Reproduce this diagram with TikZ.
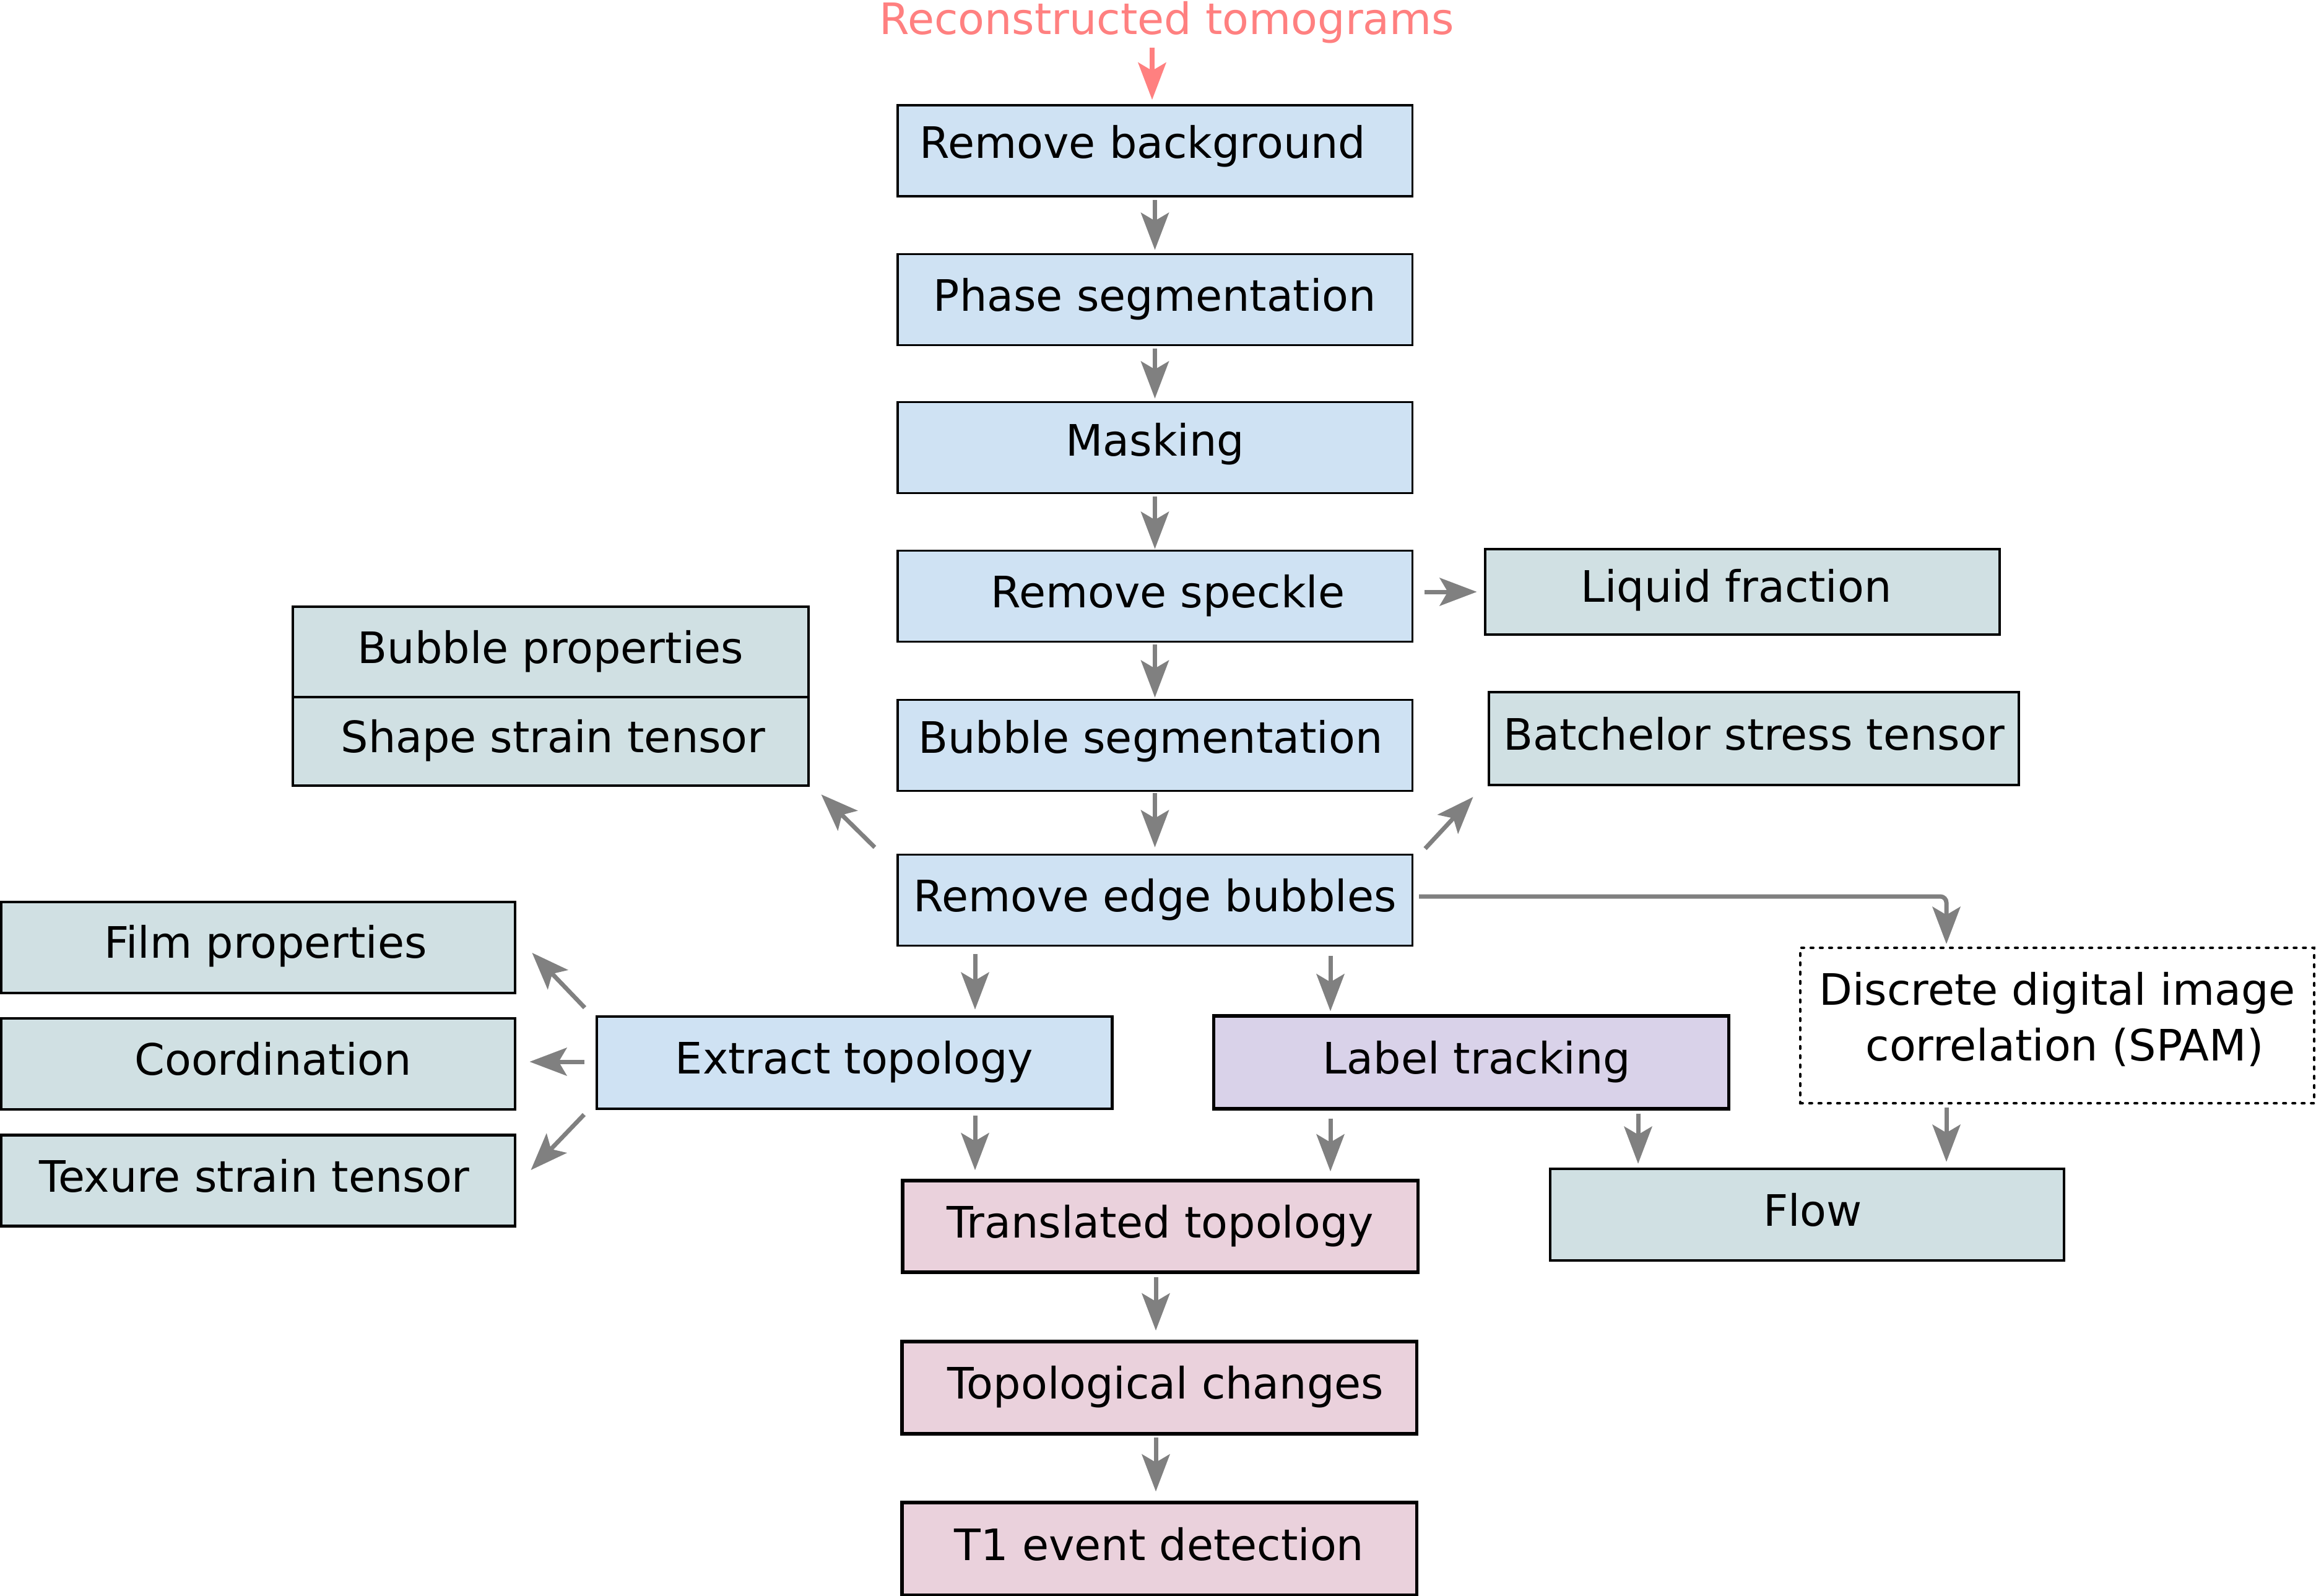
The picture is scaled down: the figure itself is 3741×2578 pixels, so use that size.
\documentclass[tikz,border=0pt]{standalone}
\usepackage{fontspec}
\setmainfont{DejaVu Sans}
\usetikzlibrary{arrows.meta,calc}
\definecolor{cblue}{RGB}{207,226,243}
\definecolor{cgreen}{RGB}{208,224,227}
\definecolor{cpurple}{RGB}{217,210,233}
\definecolor{cpink}{RGB}{234,209,220}
\definecolor{ctitle}{RGB}{255,128,128}
\definecolor{cgray}{RGB}{128,128,128}
\newcommand\mainfs{\fontsize{19.9pt}{25.6pt}\selectfont}
\tikzset{
  boxbase/.style={draw=black, rectangle, inner sep=0pt, minimum width=8.31cm, minimum height=1.47cm, font=\mainfs},
  box/.style={boxbase, text height=0.53cm, text depth=0.165cm},
  bluebox/.style={box, fill=cblue, line width=0.035cm},
  greenbox/.style={box, fill=cgreen, line width=0.044cm},
  purplebox/.style={box, fill=cpurple, line width=0.052cm},
  pinkbox/.style={box, fill=cpink, line width=0.055cm},
  dotbox/.style={boxbase, fill=white, line width=0.042cm, line cap=round, dash pattern=on 0.04cm off 0.11cm, align=center, minimum width=8.30cm, minimum height=2.51cm},
  arr/.style={draw=cgray, line width=0.07cm, -{Stealth[length=0.6cm,width=0.45cm,inset=0.13cm]}},
  pinkarr/.style={draw=ctitle, line width=0.075cm, -{Stealth[length=0.6cm,width=0.45cm,inset=0.13cm]}}
}
\begin{document}
\begin{tikzpicture}[x=0.01cm,y=-0.01cm]
\useasboundingbox (0,0) rectangle (3741,2578);
% title
\node[text=ctitle, font=\mainfs, inner sep=0pt, text height=0.53cm, text depth=0.165cm] (title) at (1885,36.75) {Reconstructed tomograms};
% main column
\node[bluebox, text depth=0.3cm] (rb) at (1865.5,243.5) {Remove background\kern0.39cm};
\node[bluebox] (ps) at (1865.5,484) {Phase segmentation};
\node[bluebox, text depth=0.265cm] (mk) at (1865.5,723) {Masking};
\node[bluebox] (rs) at (1865.5,963) {\kern0.42cm Remove speckle};
\node[bluebox, text depth=0.285cm] (bs) at (1865.5,1204) {Bubble segmentation\kern0.14cm};
\node[bluebox] (re) at (1865.5,1454) {Remove edge bubbles};
% right side
\node[greenbox, minimum height=1.38cm, text depth=0.2cm] (lf) at (2814.5,956) {Liquid fraction\kern0.2cm};
\node[greenbox, minimum width=8.56cm, minimum height=1.5cm] (bt) at (2833,1193) {Batchelor stress tensor};
% left side
\node[greenbox, minimum width=8.33cm, minimum height=1.46cm] (bp) at (889.5,1053) {Bubble properties};
\node[greenbox, minimum width=8.33cm, minimum height=1.43cm] (ss) at (889.5,1197.5) {\kern0.08cm Shape strain tensor};
\node[greenbox, minimum width=8.30cm, text depth=0.2cm] (fp) at (417,1530.5) {\kern0.24cm Film properties};
\node[greenbox, minimum width=8.30cm] (co) at (417,1718.5) {\kern0.48cm Coordination};
\node[greenbox, minimum width=8.30cm] (tx) at (417,1907) {Texure strain tensor\kern0.12cm};
% middle row
\node[bluebox, line width=0.045cm, minimum width=8.32cm, minimum height=1.49cm] (et) at (1380,1716.5) {Extract topology};
\node[purplebox, minimum height=1.5cm] (lt) at (2376.5,1716) {\kern0.18cm Label tracking};
\node[dotbox] (dd) at (3323,1656.5) {Discrete digital image\\\kern0.24cm correlation (SPAM)\rule[-0.3cm]{0pt}{0pt}};
\node[greenbox, minimum width=8.30cm, minimum height=1.48cm] (fl) at (2919,1962) {\kern0.18cm Flow};
% bottom column
\node[pinkbox, minimum width=8.32cm, minimum height=1.48cm] (tt) at (1874,1981) {Translated topology};
\node[pinkbox, minimum height=1.49cm] (tc) at (1872.5,2241.5) {\kern0.21cm Topological changes};
\node[pinkbox, minimum height=1.5cm] (t1) at (1872.5,2502) {T1 event detection};
% connectors
\coordinate (tarr) at (title.south -| rb.north);
\draw[pinkarr] ([shift={(-4.5,4.5)}]tarr) -- ([shift={(-4.5,-7)}]rb.north);
\draw[arr] ([shift={(0,4)}]rb.south) -- ([shift={(0,-5)}]ps.north);
\draw[arr] ([shift={(0,4)}]ps.south) -- ([shift={(0,-4)}]mk.north);
\draw[arr] ([shift={(0,4)}]mk.south) -- ([shift={(0,-1)}]rs.north);
\draw[arr] ([shift={(0,3)}]rs.south) -- ([shift={(0,-2)}]bs.north);
\draw[arr] ([shift={(0,2)}]bs.south) -- ([shift={(0,-10)}]re.north);
\draw[arr] ([shift={(18,0)}]rs.east |- lf.west) -- ([shift={(-11,0)}]lf.west);
\draw[arr] ([shift={(-35,-10)}]re.north west) -- ([shift={(18,12)}]ss.south east);
\draw[arr] ([shift={(19,-8)}]re.north east) -- ([shift={(-23,17)}]bt.south west);
\draw[arr, rounded corners=0.1cm] ([shift={(9,-6)}]re.east) -| ([shift={(-179,-4)}]dd.north);
\draw[arr] ([shift={(-290.5,12)}]re.south) -- ([shift={(195,-9)}]et.north);
\draw[arr] ([shift={(283.5,15)}]re.south) -- ([shift={(-227.5,-5)}]lt.north);
\draw[arr] ([shift={(-17,-12)}]et.north west) -- ([shift={(25,8.5)}]fp.east);
\draw[arr] ([shift={(-18,-1.5)}]et.west) -- ([shift={(21,-3.5)}]co.east);
\draw[arr] ([shift={(-18,7)}]et.south west) -- ([shift={(23,-17)}]tx.east);
\draw[arr] ([shift={(195,9)}]et.south) -- ([shift={(-299,-14)}]tt.north);
\draw[arr] ([shift={(-227.5,13)}]lt.south) -- ([shift={(275,-12)}]tt.north);
\draw[arr] ([shift={(269.5,5)}]lt.south) -- ([shift={(-273,-6)}]fl.north);
\draw[arr] ([shift={(-179,5)}]dd.south) -- ([shift={(225,-9)}]fl.north);
\draw[arr] ([shift={(-7,5)}]tt.south) -- ([shift={(-5.5,-15)}]tc.north);
\draw[arr] ([shift={(-5.5,3)}]tc.south) -- ([shift={(-5.5,-15)}]t1.north);
\end{tikzpicture}
\end{document}
